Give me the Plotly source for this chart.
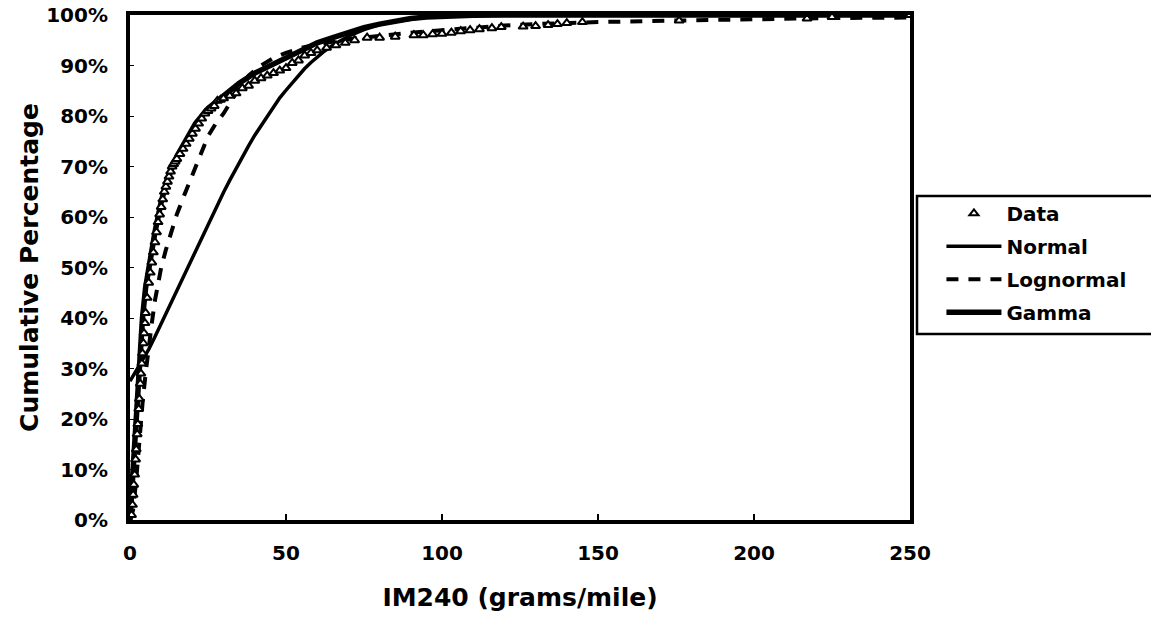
import plotly.graph_objects as go

# ---- data ----
data_x = [0.5, 0.8, 1, 1.2, 1.5, 1.8, 2, 2.3, 2.5, 2.8, 3, 3.3, 3.5, 3.8, 4, 4.3, 4.5, 4.8, 5, 5.5,
          6, 6.5, 7, 7.5, 8, 8.5, 9, 9.5, 10, 10.5, 11, 11.5, 12, 12.5, 13, 13.5, 14, 14.5, 15,
          16, 17, 18, 19, 20, 21, 22, 23, 24, 25,
          26, 27, 28, 29, 30, 32, 34, 36, 38, 40,
          42, 44, 46, 48, 50, 52, 54, 56, 58, 60,
          63, 66, 69, 72, 76, 80, 85, 91, 94, 97,
          100, 103, 106, 109, 112, 116, 119, 126, 130, 134,
          137, 140, 145, 176, 217, 225, 250]
data_y = [1, 3, 5, 7, 9, 12, 14, 17, 19, 22, 24, 27, 29, 31, 33, 35, 37, 39, 41, 44,
          47, 49, 51, 53, 55, 57, 59, 60.5, 62, 63.5, 65, 66, 67, 68, 69, 70, 70.5, 71, 71.5,
          72.5, 73.5, 74.5, 75.5, 76.5, 77.5, 78.5, 79.5, 80.5, 81,
          81.5, 82, 83, 83.2, 83.5, 84, 84.5, 85.5, 86, 87,
          87.5, 88, 88.5, 89, 89.5, 90.5, 91, 92, 92.5, 93,
          93.5, 94, 94.5, 95, 95.5, 95.5, 95.7, 96, 96, 96.2,
          96.3, 96.5, 96.8, 97, 97.2, 97.4, 97.6, 97.7, 97.8, 98,
          98.2, 98.4, 98.6, 98.9, 99.3, 99.6, 100]

normal_x = [0, 2, 4, 6, 8, 10, 12, 14, 16, 18, 20, 22, 24, 26, 28, 30,
            32, 34, 36, 38, 40, 42, 44, 46, 48, 50, 52, 54, 56, 58, 60,
            62, 65, 70, 75, 80, 85, 90, 95, 100, 110, 120, 250]
normal_y = [27.5, 29.5, 31.5, 33.8, 36.3, 38.9, 41.6, 44.2, 46.9, 49.5, 52.1,
            54.8, 57.3, 59.8, 62.4, 64.9, 67.3, 69.6, 72, 74.1, 76.2, 78.1,
            80.1, 81.8, 83.6, 85.1, 86.6, 88, 89.4, 90.6, 91.7, 92.7, 94,
            95.8, 97.1, 98.1, 98.7, 99.2, 99.6, 99.8, 99.95, 100, 100]

lognormal_x = [0, 1, 2, 3, 4, 5, 6, 7, 8, 9, 10, 11.5, 13, 15, 17.5, 20,
               22.5, 25, 27.5, 30, 32.5, 35, 38, 42, 46, 50, 55, 60, 70, 80,
               90, 100, 110, 120, 130, 150, 175, 200, 225, 250]
lognormal_y = [0, 2, 8, 16, 23, 29, 34.5, 39, 43.5, 47, 50, 53.5, 56.5, 60.5,
               64.5, 68.5, 72.5, 76, 78.5, 80.5, 83, 85.5, 88, 90, 91.5, 92.5,
               93.5, 94.2, 95.2, 95.9, 96.5, 97, 97.5, 97.9, 98.2, 98.6, 98.9,
               99.2, 99.4, 99.5]

gamma_x = [0, 0.5, 1, 2, 3, 4, 5, 6, 8, 10, 12, 15, 18, 21, 25, 30, 35, 40,
           45, 50, 55, 60, 65, 70, 75, 80, 85, 90, 95, 100, 110, 120, 250]
gamma_y = [0, 5, 12, 23, 32, 40, 46, 50, 57, 63, 67.5, 72, 75.5, 78.5, 81.5, 84,
           86.5, 88.5, 90, 91.5, 93, 94.5, 95.5, 96.5, 97.5, 98.2, 98.8, 99.3,
           99.6, 99.8, 99.95, 100, 100]

x_ticks = [0, 50, 100, 150, 200, 250]
y_ticks = [0, 10, 20, 30, 40, 50, 60, 70, 80, 90, 100]

FONT = "DejaVu Sans"

fig = go.Figure()
fig.add_trace(go.Scatter(x=normal_x, y=normal_y, mode="lines", name="<b>Normal</b>",
                         line=dict(color="black", width=3.5), legendrank=2,
                         legendgroup="n"))
fig.add_trace(go.Scatter(x=lognormal_x, y=lognormal_y, mode="lines", name="<b>Lognormal</b>",
                         line=dict(color="black", width=4, dash="12px,10px"), legendrank=3,
                         legendgroup="l"))
fig.add_trace(go.Scatter(x=gamma_x, y=gamma_y, mode="lines", name="<b>Gamma</b>",
                         line=dict(color="black", width=5.5), legendrank=4,
                         legendgroup="g"))
fig.add_trace(go.Scatter(x=data_x, y=data_y, mode="markers", name="<b>Data</b>",
                         marker=dict(symbol="triangle-up", size=8, color="white",
                                     line=dict(color="black", width=2)),
                         legendrank=1, legendgroup="d"))

fig.update_layout(
    width=1151, height=617,
    margin=dict(l=130, r=241, t=15, b=97),
    paper_bgcolor="white", plot_bgcolor="white",
    font=dict(family=FONT, color="black", size=20),
    showlegend=True,
    legend=dict(x=1.0403, xanchor="left", y=0.646, yanchor="top",
                bgcolor="rgba(0,0,0,0)", borderwidth=0,
                font=dict(family=FONT, size=20, color="black"),
                itemwidth=55, tracegroupgap=4, traceorder="grouped"),
    shapes=[dict(type="rect", xref="paper", yref="paper",
                 x0=(917 - 130) / 780, x1=(1156 - 130) / 780,
                 y0=(520 - 334) / 505, y1=(520 - 196) / 505,
                 line=dict(color="black", width=2.5))],
)
fig.update_xaxes(range=[0, 250], tickvals=x_ticks,
                 ticktext=["<b>%d</b>" % v for v in x_ticks],
                 showgrid=False, zeroline=False, automargin=False,
                 showline=True, linecolor="black", linewidth=4, mirror=True,
                 ticks="inside", ticklen=6, tickwidth=2, tickcolor="black",
                 ticklabelstandoff=12,
                 tickfont=dict(family=FONT, size=20),
                 title=dict(text="<b>IM240 (grams/mile)</b>",
                            font=dict(family=FONT, size=25), standoff=25))
fig.update_yaxes(range=[0, 100], tickvals=y_ticks,
                 ticktext=["<b>%d%%</b>" % v for v in y_ticks],
                 showgrid=False, zeroline=False, automargin=False,
                 showline=True, linecolor="black", linewidth=4, mirror=True,
                 ticks="inside", ticklen=4, tickwidth=1, tickcolor="black",
                 ticklabelstandoff=14,
                 tickfont=dict(family=FONT, size=20),
                 title=dict(text="<b>Cumulative Percentage</b>",
                            font=dict(family=FONT, size=25), standoff=1))

fig.write_html("out.html")
